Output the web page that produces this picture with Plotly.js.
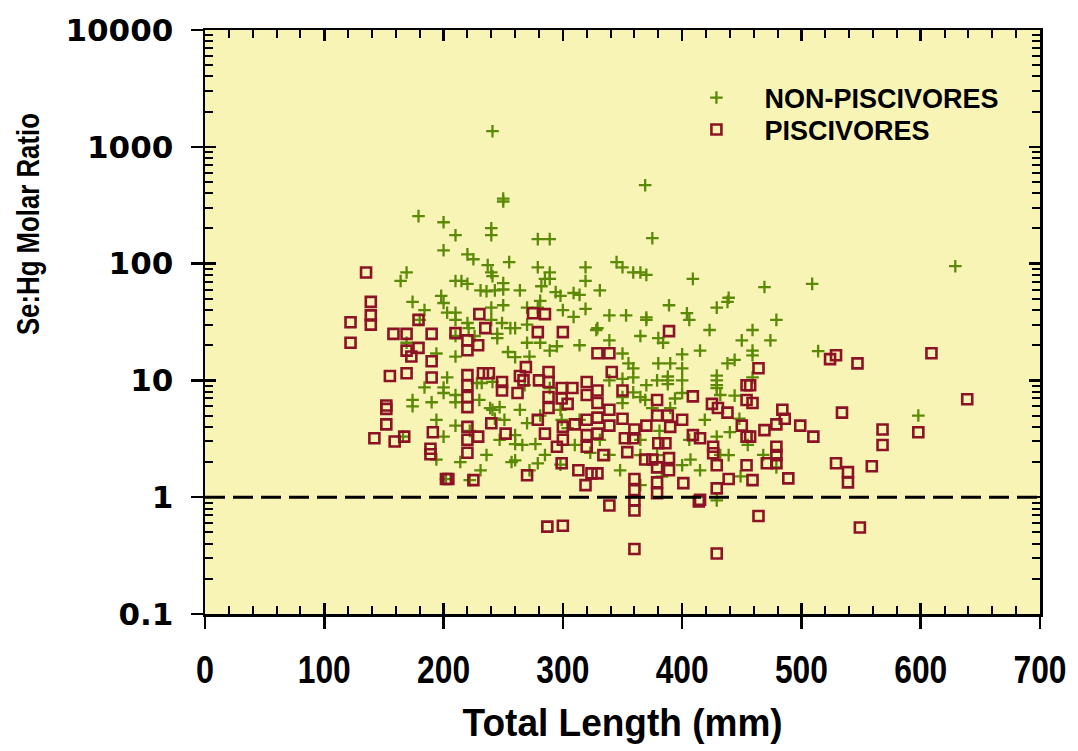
<!DOCTYPE html>
<html>
<head>
<meta charset="utf-8">
<script src="https://cdn.plot.ly/plotly-3.0.1.min.js"></script>
<style>html,body{margin:0;padding:0;background:#fff;}#chart{width:1078px;height:751px;}</style>
</head>
<body>
<div id="chart"></div>
<script>
// ---- data (Total Length mm, Se:Hg molar ratio) ----
const nonPiscX = [241,179,200,210,240,240,200,220,225,169,164,210,215,220,237,240,241,231,198,236,243,
  369,250,250,279,289,375,255,279,289,285,289,319,319,345,350,359,365,370,409,282,294,309,314,250,250,
  629,469,509,439,479,459,459,514,598,459,365,379,400,439,449,479,429,194,260,279,202,
  174,184,200,203,180,169,194,203,184,200,200,174,174,190,194,200,166,
  240,250,210,210,220,221,240,249,256,260,270,279,300,309,319,329,210,226,245,245,270,270,281,289,295,254,260,
  210,210,228,232,241,239,241,247,268,289,270,260,260,277,304,299,
  389,404,429,438,339,370,370,365,380,384,450,350,400,355,359,380,390,400,438,359,379,388,388,388,400,429,429,429,429,
  370,339,350,359,350,350,365,369,394,400,375,390,444,429,448,440,
  210,222,236,247,257,266,272,285,298,310,323,230,243,210,264,281,298,331,353,328,314,272,339,415,406,423,459,474,444,
  468,455,432,415,407,383,365,348,339,331,314,298,281,264,251,231,222,214,432,419,406,381,365];
const nonPiscY = [1360,255,226,175,201,175,130,120,109,84,71,71,71,67,97,84,78,59,53,58,59,
  469,360,340,162,162,165,103,93,84,74,74,93,71,103,93,84,84,80,74,64,57,56,54,68,60,
  95,63,67,51,33,18,16.4,17.8,5.0,10.6,2.29,2.29,1.88,2.29,1.51,1.8,0.94,2.1,2.07,1.95,1.43,
  47,40,46,38,33,21,17,10.6,8.7,8.7,7.8,6.8,6.0,6.5,4.6,3.3,3.3,
  42,44,38,33,31,28,33,31,28,28,42,42,40,35,41,28,24,24,25,23,30,21,21,18,19.6,17.5,15.8,
  7.5,6.5,9.5,9.5,9.7,5.8,5.6,5.9,9.1,8.6,4.3,3.4,2.85,2.85,3.9,4.6,
  44,37.6,42,47,36,34.6,33,24,23,21,22,17,16.7,14,12.7,14,14,12.7,14,10.6,10,10.8,10,9.3,10,11,10,9.1,8.6,
  9.1,10,10.3,7.9,7.2,6.4,7.2,6.8,7.0,7.8,5.8,5.8,7.4,3.3,4.7,3.6,
  4.1,3.7,2.3,3.1,2.0,2.8,1.7,2.3,1.9,2.8,2.4,6.8,4.7,16,59,48,53,59,36,27,20,16,22,18,33,27,27,22,15,
  2.3,2.8,2.3,1.7,2.1,1.5,1.27,1.7,2.3,3.1,4.6,5.6,5.0,5.6,4.6,1.7,1.4,2.0,7.5,4.6,3.1,3.7,3.1];

const piscX = [139,139,139,122,122,135,158,169,179,190,169,179,173,190,155,169,190,152,152,152,142,159,167,191,189,
  189,220,202,204,225,270,287,300,
  299,313,319,324,329,334,354,339,360,360,360,360,360,369,375,379,379,379,389,389,401,414,415,426,429,429,429,439,454,459,464,471,479,479,489,
  464,457,459,484,486,479,469,499,510,457,479,524,529,547,534,568,568,598,609,639,549,529,539,539,559,
  230,235,210,220,220,229,275,285,279,300,329,220,220,220,220,233,238,249,249,269,264,267,262,280,288,288,288,288,
  299,299,308,320,320,329,329,304,279,285,240,252,220,220,229,300,300,310,320,320,329,329,295,320,
  389,339,341,350,379,409,425,430,438,454,454,339,350,379,388,400,339,370,390,360,352,359,380,386,409,415,426,450,454];
const piscY = [47,36,30,31.5,21,84,25,25,33,25,18,19,16,14.6,10.9,11.5,10.6,6.1,5.7,4.2,3.2,3.0,3.3,3.6,2.6,
  2.33,2.4,1.43,1.43,1.4,1.54,0.56,0.57,
  1.95,1.7,1.27,1.6,1.6,2.29,2.43,0.85,1.43,1.15,0.94,0.77,0.36,2.1,2.1,1.8,1.34,1.08,2.16,1.7,1.32,0.92,0.95,2.38,1.88,1.19,0.33,1.43,1.88,1.4,0.69,1.95,2.29,1.95,1.45,
  12.7,9.1,6.4,5.6,4.7,4.2,3.75,4.1,3.3,3.3,2.7,15.2,16.4,14,5.3,3.8,2.8,3.6,17.1,6.9,0.55,1.95,1.64,1.34,1.84,
  36.9,28,25.4,22,18.1,20,37.6,36.9,25.9,25.9,17.1,11.1,9.1,7.2,5.9,11.5,11.5,9.7,8.2,13,10.9,10,7.8,10,11.8,9.7,7.2,5.8,
  8.6,7.0,8.6,9.7,7.5,8.2,6.4,6.3,4.6,3.5,4.3,3.5,4.0,3.1,3.3,4.0,3.1,4.2,4.6,3.4,4.8,3.5,2.7,2.7,
  26.4,17.1,11.8,8.2,6.8,7.3,6.3,5.8,5.3,9.1,6.8,5.6,4.7,5.0,5.0,4.6,4.1,4.1,4.0,3.8,3.2,3.2,2.9,2.9,3.4,3.2,2.7,4.1,3.3];

const seriesNames = ['NON-PISCIVORES', 'PISCIVORES'];
const refLineX = [0, 700];
const refLineY = [1, 1];
const yTickVals = [0.1, 1, 10, 100, 1000, 10000];
const yTickText = ['0.1', '1', '10', '100', '1000', '10000'];
const xTickVals = [0, 100, 200, 300, 400, 500, 600, 700];
const xTitle = 'Total Length (mm)';
const yTitle = 'Se:Hg Molar Ratio';

const GREEN = '#5c8a08';
const RED = '#8c1225';
const boldArial = {family: 'Liberation Sans, Arial, sans-serif', weight: 'bold', color: '#000'};

const traces = [
  {x: nonPiscX, y: nonPiscY, name: seriesNames[0], type: 'scatter', mode: 'markers', legend: 'legend',
   marker: {symbol: 'cross-thin-open', size: 9, color: GREEN, line: {color: GREEN, width: 2.3}}},
  {x: piscX, y: piscY, name: seriesNames[1], type: 'scatter', mode: 'markers', legend: 'legend2',
   marker: {symbol: 'square-open', size: 10, color: RED, line: {color: RED, width: 2.6}}},
  {x: refLineX, y: refLineY, xaxis: 'x2', yaxis: 'y2', type: 'scatter', mode: 'lines',
   showlegend: false, hoverinfo: 'skip', line: {color: '#000', width: 3, dash: '20px,8px'}}
];

const legendBase = {x: 0.555, xanchor: 'left', yanchor: 'middle', bgcolor: 'rgba(0,0,0,0)',
  itemwidth: 86, font: Object.assign({}, boldArial, {size: 27})};

const layout = {
  width: 1078, height: 751,
  margin: {l: 205, r: 38, t: 30, b: 137, pad: 0},
  paper_bgcolor: '#ffffff',
  plot_bgcolor: '#f8f4b6',
  showlegend: true,
  legend: Object.assign({}, legendBase, {y: 0.8836}),
  legend2: Object.assign({}, legendBase, {y: 0.8288}),
  xaxis: {range: [0, 700], tickvals: xTickVals, ticks: 'outside', ticklen: 12, tickwidth: 2.5, tickcolor: '#000',
    showline: true, linewidth: 2.5, linecolor: '#000', mirror: true, showgrid: false, zeroline: false,
    tickfont: Object.assign({}, boldArial, {size: 38}), ticklabelstandoff: 9},
  xaxis2: {range: [0, 700], overlaying: 'x', anchor: 'y2', side: 'bottom', tickvals: xTickVals,
    ticks: 'inside', ticklen: 11, tickwidth: 2.5, tickcolor: '#000', mirror: 'ticks', showline: false,
    showticklabels: false, showgrid: false, zeroline: false,
    minor: {ticks: 'inside', ticklen: 8, tickwidth: 2, tickcolor: '#000', dtick: 20, tick0: 0, showgrid: false}},
  yaxis: {type: 'log', range: [-1, 4], tickvals: yTickVals, ticktext: yTickText, ticks: 'outside', ticklen: 12,
    tickwidth: 2.5, tickcolor: '#000', showline: true, linewidth: 2.5, linecolor: '#000', mirror: true,
    showgrid: false, zeroline: false, ticklabelstandoff: 11,
    tickfont: {family: 'DejaVu Sans, sans-serif', weight: 'bold', size: 31, color: '#000'}},
  yaxis2: {type: 'log', range: [-1, 4], overlaying: 'y', anchor: 'x2', side: 'left', tickvals: yTickVals,
    ticks: 'inside', ticklen: 11, tickwidth: 2.5, tickcolor: '#000', mirror: 'ticks', showline: false,
    showticklabels: false, showgrid: false, zeroline: false,
    minor: {ticks: 'inside', ticklen: 8, tickwidth: 2, tickcolor: '#000', dtick: 'D1', showgrid: false}},
  annotations: [
    {text: xTitle, xref: 'paper', yref: 'paper', x: 0.5, y: -0.185, xanchor: 'center', yanchor: 'middle',
     showarrow: false, font: Object.assign({}, boldArial, {size: 39})},
    {text: yTitle, xref: 'paper', yref: 'paper', x: -0.212, y: 0.668, xanchor: 'center', yanchor: 'middle',
     textangle: -90, showarrow: false, font: Object.assign({}, boldArial, {size: 32})}
  ]
};

function condense(el, width) {
  el.setAttribute('textLength', String(width));
  el.setAttribute('lengthAdjust', 'spacingAndGlyphs');
}

Plotly.newPlot('chart', traces, layout, {displayModeBar: false, staticPlot: true}).then(function () {
  // the original uses condensed bold lettering for these texts
  document.querySelectorAll('text.annotation-text').forEach(function (t) {
    if (t.textContent === yTitle) condense(t, 222);
    if (t.textContent === xTitle) condense(t, 320);
  });
  document.querySelectorAll('g.xtick text').forEach(function (t) {
    condense(t, Math.round(t.textContent.length * 17.7));
  });
});
</script>
</body>
</html>
